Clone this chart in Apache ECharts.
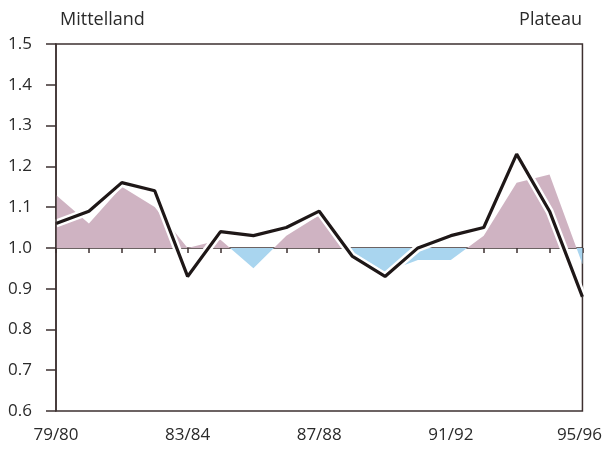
<!DOCTYPE html>
<html>
<head>
<meta charset="utf-8">
<script src="https://cdn.jsdelivr.net/npm/echarts@6/dist/echarts.min.js"></script>
<style>
  html, body { margin: 0; padding: 0; background: #fff; }
  #main { width: 605px; height: 455px; }
</style>
</head>
<body>
<div id="main"></div>
<script>
  // Jahre 79/80 .. 95/96
  const years = ['79/80', '80/81', '81/82', '82/83', '83/84', '84/85', '85/86', '86/87', '87/88',
                 '88/89', '89/90', '90/91', '91/92', '92/93', '93/94', '94/95', '95/96'];
  // schwarze Linie
  const lineValues = [1.06, 1.09, 1.16, 1.14, 0.93, 1.04, 1.03, 1.05, 1.09,
                      0.98, 0.93, 1.00, 1.03, 1.05, 1.23, 1.09, 0.88];
  // Flaeche (rosa ueber 1.0, blau darunter)
  const areaValues = [1.13, 1.06, 1.15, 1.10, 1.00, 1.02, 0.95, 1.03, 1.08,
                      0.99, 0.94, 0.97, 0.97, 1.03, 1.16, 1.18, 0.96];
  const yMin = 0.6, yMax = 1.5;
  const baseLevel = 1.0;

  const axisColor = '#3d3030';
  const textColor = '#2a2a2a';
  const pink = '#cfb3c2';
  const blue = '#a9d5ef';
  const font = 'Open Sans';

  const option = {
    animation: false,
    grid: {
      left: 56, right: 19, top: 44, bottom: 44,
      show: true, borderColor: axisColor, borderWidth: 1.5
    },
    title: [
      { text: 'Mittelland', left: 55, top: 6,
        textStyle: { fontFamily: font, fontSize: 18, fontWeight: 'normal', color: textColor } },
      { text: 'Plateau', right: 18, top: 6,
        textStyle: { fontFamily: font, fontSize: 18, fontWeight: 'normal', color: textColor } }
    ],
    xAxis: [
      {
        // Basislinie bei 1.0 mit Strichen nach unten
        type: 'category', data: years, boundaryGap: false,
        position: 'bottom', offset: -163,
        axisLine: { show: true, lineStyle: { color: axisColor, width: 1.5 } },
        axisTick: { show: true, interval: 0, length: 5, lineStyle: { color: axisColor, width: 1.5 } },
        axisLabel: { show: false }
      },
      {
        type: 'category', data: years, boundaryGap: false,
        position: 'bottom',
        axisLine: { show: false },
        axisTick: { show: false },
        axisLabel: {
          interval: 3, margin: 16, color: textColor, fontFamily: font, fontSize: 17,
          formatter: function (v) { return v === '95/96' ? '{r|' + v + '}' : v; },
          rich: { r: { fontFamily: font, fontSize: 17, color: textColor, padding: [0, 6, 0, 0] } }
        }
      }
    ],
    yAxis: {
      type: 'value', min: yMin, max: yMax, interval: 0.1, z: 10,
      axisLine: { show: true, lineStyle: { color: axisColor, width: 1.5 } },
      axisTick: { show: true, length: 10, lineStyle: { color: axisColor, width: 1.5 } },
      splitLine: { show: false },
      axisLabel: {
        margin: 24, color: textColor, fontFamily: font, fontSize: 17,
        formatter: function (v) { return v.toFixed(1); }
      }
    },
    series: [
      {
        type: 'line', data: areaValues, xAxisIndex: 0,
        symbol: 'none', lineStyle: { width: 0 },
        areaStyle: { origin: baseLevel, opacity: 1, color: pink },
        z: 1
      },
      {
        // weisser Rand um die Linie
        type: 'line', data: lineValues, xAxisIndex: 0,
        symbol: 'none', lineStyle: { color: '#ffffff', width: 8 },
        z: 2
      },
      {
        type: 'line', data: lineValues, xAxisIndex: 0,
        symbol: 'none', lineStyle: { color: '#1e1717', width: 3.2 },
        z: 3
      }
    ]
  };

  const chart = echarts.init(document.getElementById('main'));
  chart.setOption(option);

  // Farbwechsel genau bei 1.0: globaler Verlauf ueber die Plotflaeche
  const yTop = chart.convertToPixel({ yAxisIndex: 0 }, yMax);
  const yBot = chart.convertToPixel({ yAxisIndex: 0 }, yMin);
  const yBase = chart.convertToPixel({ yAxisIndex: 0 }, baseLevel);
  const f = (yBase - yTop) / (yBot - yTop);
  chart.setOption({
    series: [{
      areaStyle: {
        color: new echarts.graphic.LinearGradient(0, yTop, 0, yBot, [
          { offset: 0, color: pink }, { offset: f, color: pink },
          { offset: f, color: blue }, { offset: 1, color: blue }
        ], true)
      }
    }]
  });
</script>
</body>
</html>
